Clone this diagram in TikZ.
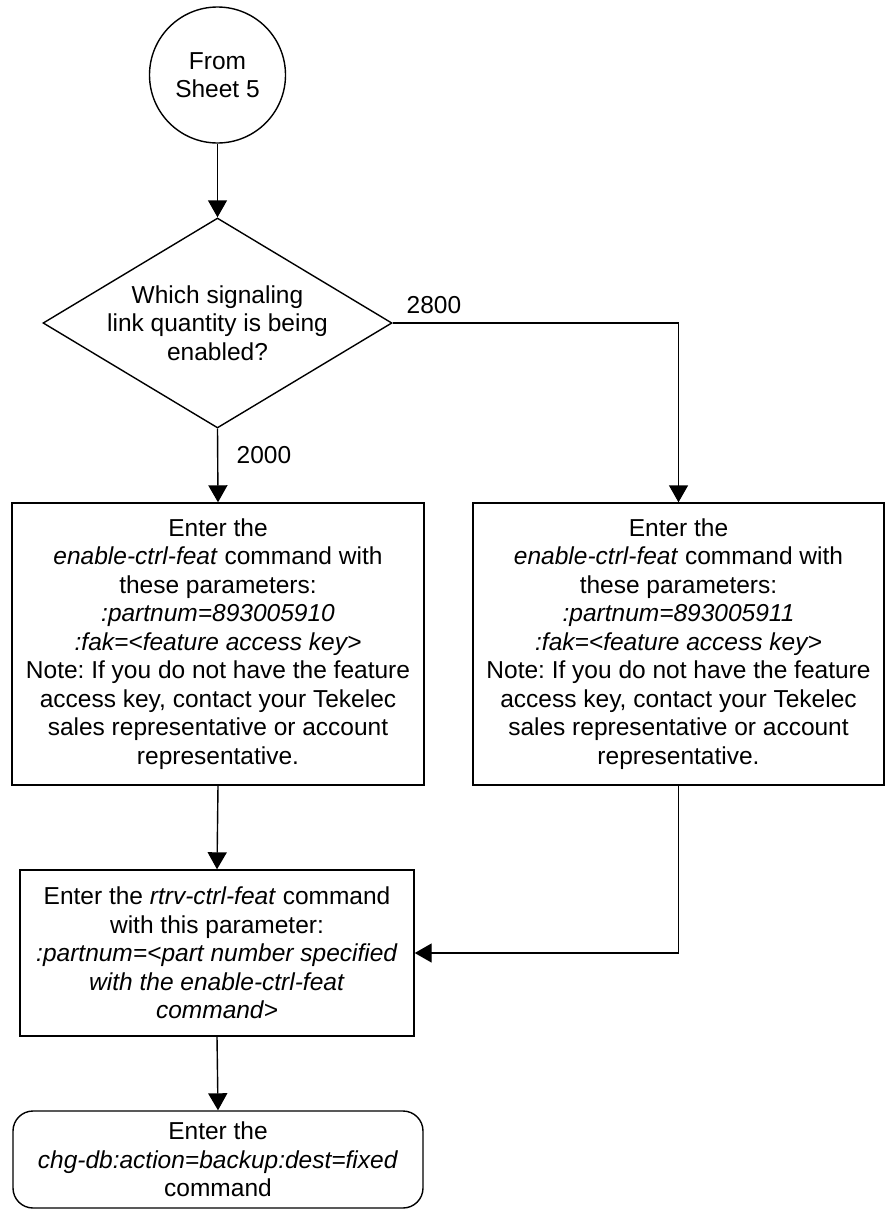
\documentclass[tikz,border=0pt]{standalone}
\usepackage{fontspec}
\setmainfont{Liberation Sans}
\usetikzlibrary{arrows.meta,shapes.geometric}
\begin{document}
\frenchspacing
\begin{tikzpicture}[x=1pt,y=-1pt,
  font=\fontsize{24.5}{28.5}\selectfont,
  line width=1.4pt,
  arr/.style={-{Triangle[length=17pt,width=19pt]}},
  proc/.style={draw, rectangle, align=center, inner sep=0pt},
  term/.style={draw, rectangle, rounded corners=20pt, align=center, inner sep=0pt},
  lbl/.style={inner sep=0pt, anchor=west}]
\useasboundingbox (0,0) rectangle (885,1210);
\node[draw, circle, minimum size=136pt, inner sep=0pt, align=center] (start) at (217.5,75) {From\\Sheet 5};
\node[draw, diamond, minimum width=349pt, minimum height=210pt, inner sep=0pt] (q) at (217.5,323) {};
\node[align=center, inner sep=0pt] (qtext) at (q.center) {Which signaling\\link quantity is being\\enabled?};
\node[proc, minimum width=412pt, minimum height=282pt] (en1) at (218,644) {Enter the\\\textit{enable-ctrl-feat} command with\\these parameters:\\\textit{:partnum=893005910}\\\textit{:fak=<feature access key>}\\Note: If you do not have the feature\\access key, contact your Tekelec\\sales representative or account\\representative.};
\node[proc, minimum width=411pt, minimum height=282pt] (en2) at (678.5,644) {Enter the\\\textit{enable-ctrl-feat} command with\\these parameters:\\\textit{:partnum=893005911}\\\textit{:fak=<feature access key>}\\Note: If you do not have the feature\\access key, contact your Tekelec\\sales representative or account\\representative.};
\node[proc, minimum width=394pt, minimum height=166pt] (rtrv) at (217,953) {Enter the \textit{rtrv-ctrl-feat} command\\with this parameter:\\\textit{:partnum=<part number specified}\\\textit{with the enable-ctrl-feat}\\\textit{command>}};
\node[term, minimum width=410pt, minimum height=97pt] (chg) at (218,1159.5) {Enter the\\\textit{chg-db:action=backup:dest=fixed}\\command};
\draw[arr] (start) -- (q.north);
\draw[arr] (q.south) -- (en1.north);
\node[lbl] (l2000) at (236,455) {2000};
\draw[arr] (q.east) -| (en2.north);
\node[lbl] (l2800) at (406,305) {2800};
\draw[arr] (en1.south) -- (rtrv.north);
\draw[arr] (en2.south) |- (rtrv.east);
\draw[arr] (rtrv.south) -- (chg.north);
\end{tikzpicture}
\end{document}
